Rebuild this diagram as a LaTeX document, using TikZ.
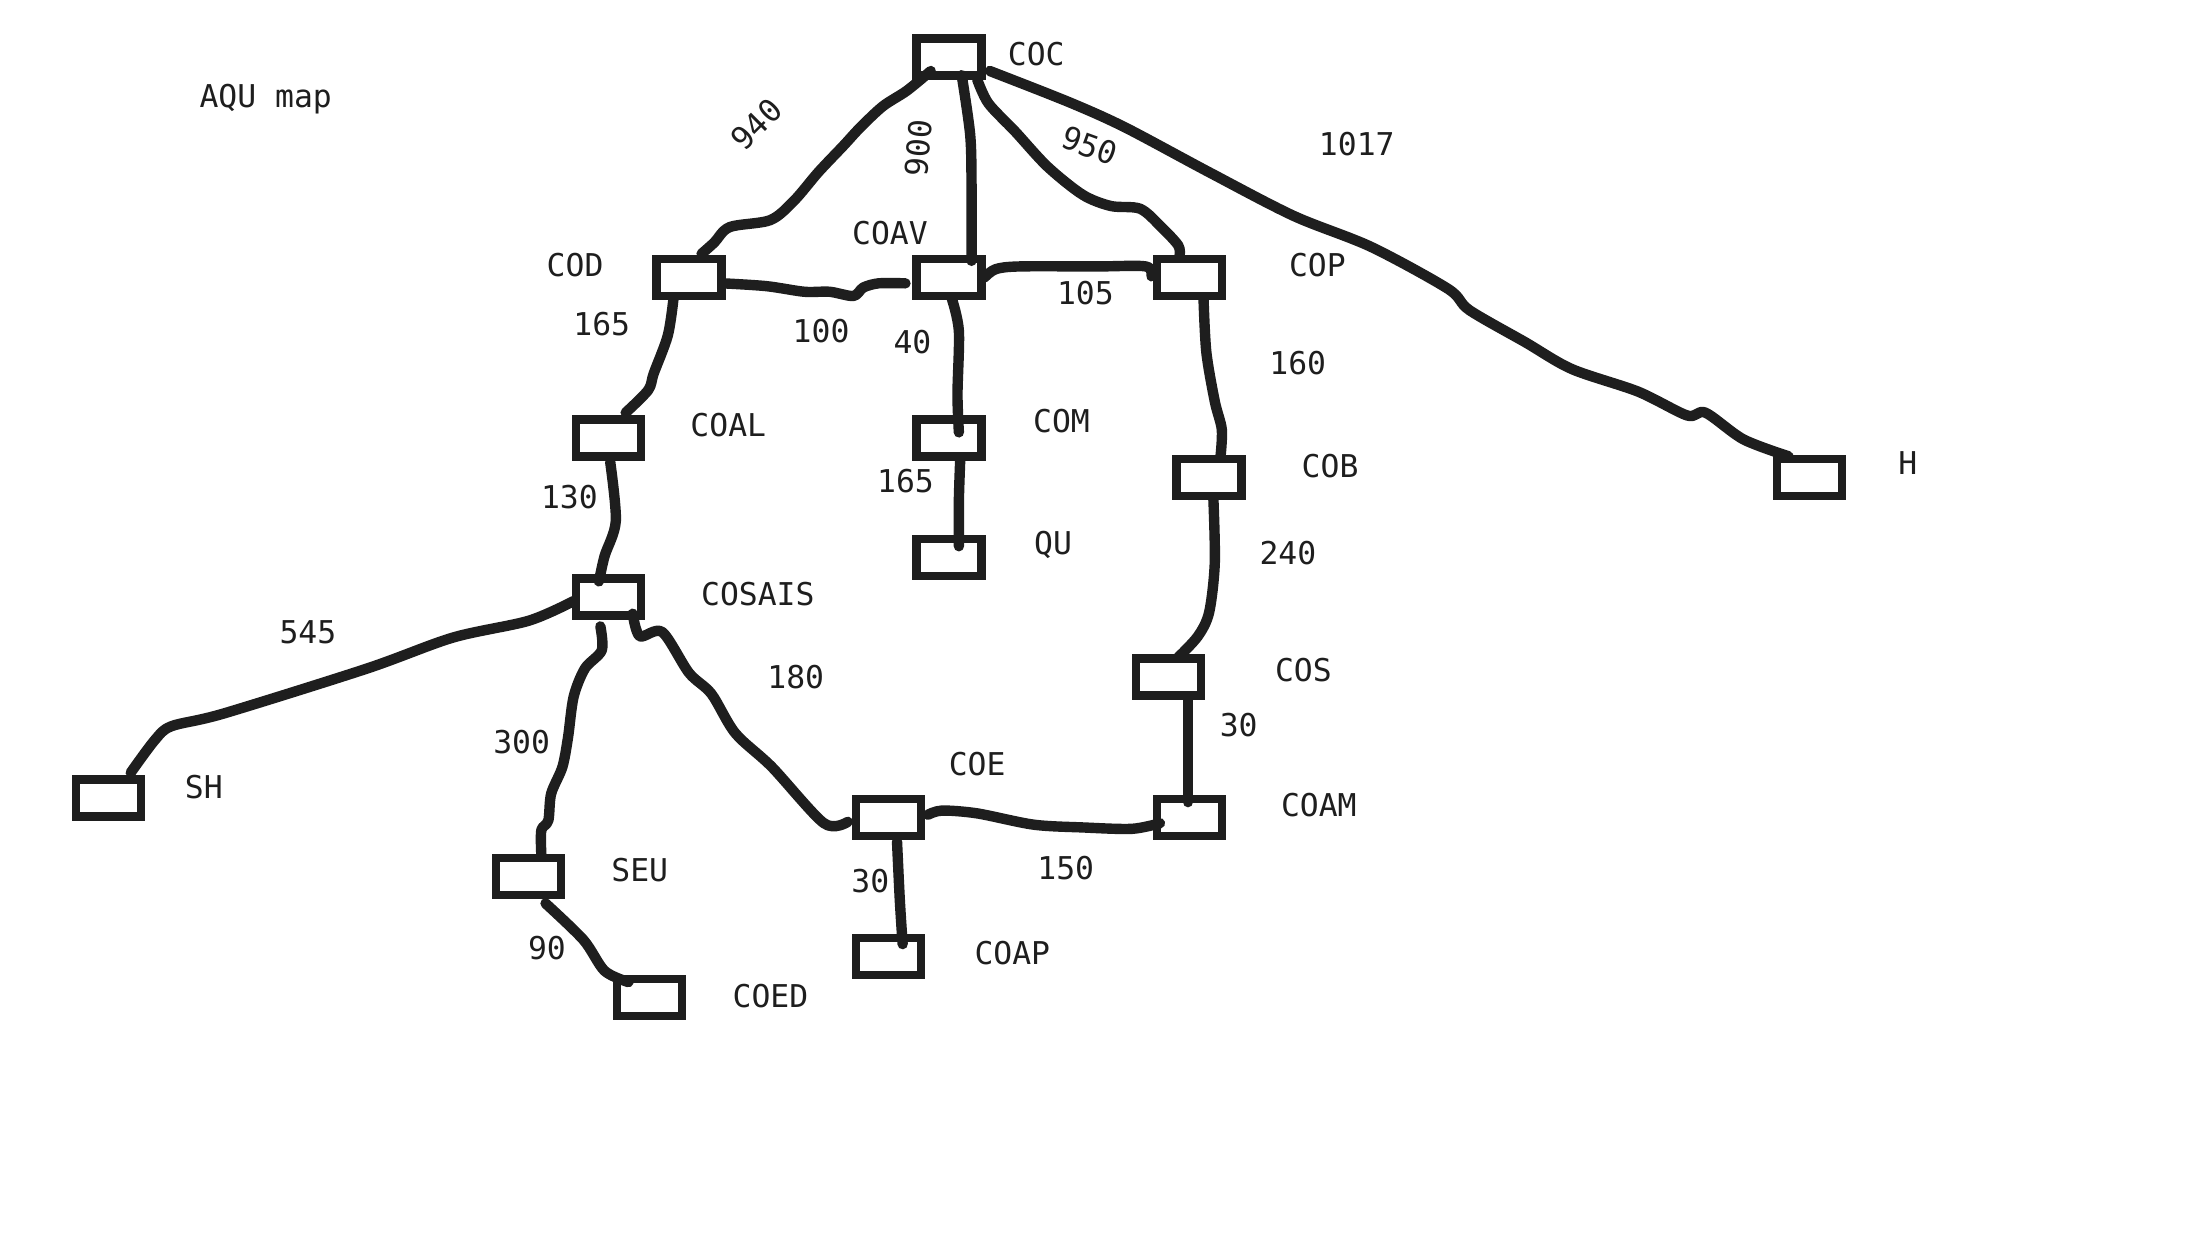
\documentclass[tikz,border=0pt]{standalone}
\usepackage{fontspec}
\setmainfont{DejaVu Sans Mono}
\definecolor{ink}{HTML}{1E1E1E}
\tikzset{
  stn/.style={draw=ink,line width=4.2pt,minimum width=32.5pt,minimum height=18.5pt,inner sep=0pt,outer sep=0pt,rectangle},
  wire/.style={draw=ink,line width=5.2pt,line cap=round,line join=round},
  lab/.style={text=ink,font=\fontsize{15.7}{18}\selectfont,inner sep=0pt,anchor=center},
}
\newcommand{\off}[3]{([shift={(#2,#3)}]#1.center)}
\begin{document}
\begin{tikzpicture}[x=0.703pt,y=-0.703pt]
\useasboundingbox[fill=white] (0,-0.5) rectangle (1568.3,892.8);
% stations
\node[stn] (coc) at (675,40) {};
\node[stn] (cod) at (490,197) {};
\node[stn] (coav) at (675,197) {};
\node[stn] (cop) at (846,197) {};
\node[stn] (coal) at (433,311) {};
\node[stn] (com) at (675,311) {};
\node[stn] (cob) at (860,339) {};
\node[stn] (qu) at (675,396) {};
\node[stn] (h) at (1287,339) {};
\node[stn] (cosais) at (433,424) {};
\node[stn] (cos) at (831,481) {};
\node[stn] (sh) at (77,567) {};
\node[stn] (coe) at (632,581) {};
\node[stn] (coam) at (846,581) {};
\node[stn] (seu) at (376,623) {};
\node[stn] (coap) at (632,680) {};
\node[stn] (coed) at (462,709) {};
% connectors
\draw[wire] plot[smooth,tension=.5] coordinates {\off{coc}{-13}{10} (645,64) (628,75) (612,90) (600,103) (582,122) (565,142) (548,156) (519,161) (508,172) \off{cod}{9}{-17}};
\draw[wire] plot[smooth,tension=.5] coordinates {\off{coc}{9}{13} (690,95) (691,130) \off{coav}{16}{-12}};
\draw[wire] plot[smooth,tension=.5] coordinates {\off{coc}{20}{16} (703,73) (722,93) (745,118) (770,138) (790,146) (811,148) (826,161) (838,174) \off{cop}{-7}{-16}};
\draw[wire] plot[smooth,tension=.5] coordinates {\off{coc}{29}{10} (760,72) (800,90) (860,122) (920,153) (975,175) (1030,205) (1045,220) (1085,243) (1118,262) (1165,278) (1200,295) (1213,293) (1240,312) \off{h}{-15}{-15}};
\draw[wire] plot[smooth,tension=.5] coordinates {\off{cod}{24}{4} (545,203) (572,207) (590,207) (607,210) (614,204) (625,201) \off{coav}{-31}{4}};
\draw[wire] plot[smooth,tension=.5] coordinates {\off{coav}{25}{0} (708,191) (725,189) (780,189) (815,189) \off{cop}{-27}{-1}};
\draw[wire] plot[smooth,tension=.5] coordinates {\off{coav}{2}{15} (682,235) (681,280) \off{com}{7}{-4}};
\draw[wire] plot[smooth,tension=.5] coordinates {\off{com}{8}{14} (682,355) \off{qu}{7}{-8}};
\draw[wire] plot[smooth,tension=.5] coordinates {\off{cod}{-11}{15} (475,238) (465,265) (461,277) \off{coal}{12}{-18}};
\draw[wire] plot[smooth,tension=.5] coordinates {\off{cop}{10}{15} (858,250) (864,285) (869,305) \off{cob}{8}{-14}};
\draw[wire] plot[smooth,tension=.5] coordinates {\off{coal}{1}{17} (438,370) (430,395) \off{cosais}{-7}{-11}};
\draw[wire] plot[smooth,tension=.5] coordinates {\off{cob}{3}{15} (864,400) (860,435) (852,452) \off{cos}{7}{-14}};
\draw[wire] \off{cos}{14}{16} -- \off{coam}{-1}{-11};
\draw[wire] plot[smooth,tension=.5] coordinates {\off{cosais}{-25}{3} (376,441) (322,453) (261,475) (159,507) (122,516) (110,526) \off{sh}{16}{-18}};
\draw[wire] plot[smooth,tension=.5] coordinates {\off{cosais}{-6}{21} (428,462) (416,475) (408,495) (404,524) (400,545) (392,564) (390,583) (385,590) \off{seu}{9}{-16}};
\draw[wire] plot[smooth,tension=.5] coordinates {\off{cosais}{17}{12} (455,452) (471,449) (490,478) (506,493) (523,521) (549,545) (586,585) \off{coe}{-29}{3}};
\draw[wire] plot[smooth,tension=.5] coordinates {\off{seu}{12}{19} (415,668) (430,690) \off{coed}{-15}{-11}};
\draw[wire] plot[smooth,tension=.5] coordinates {\off{coe}{28}{-2} (670,576) (695,578) (735,586) (770,588) (805,589) \off{coam}{-21}{4}};
\draw[wire] plot[smooth,tension=.5] coordinates {\off{coe}{6}{17} (640,640) \off{coap}{10}{-9}};
% labels
\node[lab] (t0) at (189,70) {AQU map};
\node[lab] at (737,38) {COC};
\node[lab,rotate=45] at (538,88) {940};
\node[lab,rotate=85] at (653,105) {900};
\node[lab,rotate=-20] at (775,103) {950};
\node[lab] at (965,102) {1017};
\node[lab] at (409,188) {COD};
\node[lab] at (633,165) {COAV};
\node[lab] at (937,188) {COP};
\node[lab] at (428,230) {165};
\node[lab] at (584,235) {100};
\node[lab] at (649,243) {40};
\node[lab] at (772,208) {105};
\node[lab] at (923,258) {160};
\node[lab] at (518,302) {COAL};
\node[lab] at (755,299) {COM};
\node[lab] at (644,342) {165};
\node[lab] at (946,331) {COB};
\node[lab] at (1357,329) {H};
\node[lab] at (405,353) {130};
\node[lab] at (749,387) {QU};
\node[lab] at (916,393) {240};
\node[lab] at (539,422) {COSAIS};
\node[lab] at (219,449) {545};
\node[lab] at (927,476) {COS};
\node[lab] at (566,481) {180};
\node[lab] at (881,515) {30};
\node[lab] at (371,527) {300};
\node[lab] at (695,543) {COE};
\node[lab] at (145,559) {SH};
\node[lab] at (938,572) {COAM};
\node[lab] at (455,618) {SEU};
\node[lab] at (758,617) {150};
\node[lab] at (619,626) {30};
\node[lab] at (389,674) {90};
\node[lab] at (720,677) {COAP};
\node[lab] at (548,708) {COED};
\end{tikzpicture}
\end{document}
